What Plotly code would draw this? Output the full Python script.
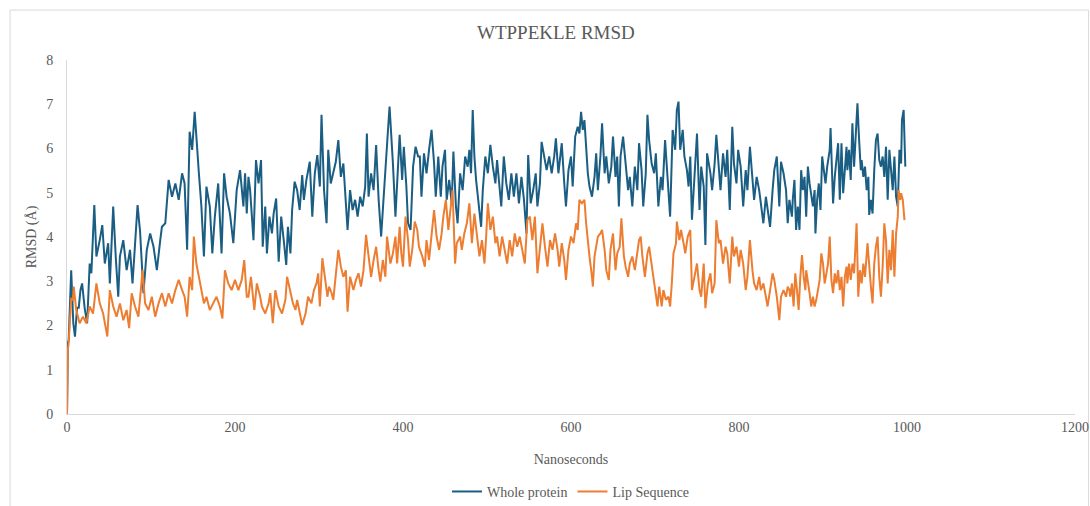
import plotly.graph_objects as go

whole_ns = [0, 1, 2, 3, 5, 7.5, 9.5, 12, 14, 16, 18, 21, 24, 27, 29, 32.5, 35, 39, 42, 45, 49, 51, 55, 58, 61, 63, 67, 71, 75, 78, 84, 87, 91, 95, 99, 103, 107, 111, 113, 117, 121, 125, 129, 133, 137, 140, 143, 146, 149, 152, 155, 157, 160, 163, 166, 170, 173, 176, 180, 184, 187, 190, 194, 198, 202, 206, 210, 212, 214, 216, 218, 222, 225, 228, 231, 233, 236, 238, 241, 244, 246, 249, 252, 255, 258, 261, 263, 266, 268, 271, 274, 277, 280, 282, 285, 289, 292, 295, 298, 301, 303, 306, 309, 311, 314, 317, 320, 323, 326, 329, 332, 334, 337, 340, 343, 346, 349, 352, 355, 357, 359, 362, 365, 368, 371, 374, 377, 380, 382, 384, 386, 388, 391, 393, 396, 399, 401, 404, 406, 409, 412, 415, 418, 420, 422, 425, 428, 431, 434, 437, 439, 442, 445, 447, 450, 452, 455, 458, 460, 463, 465, 468, 471, 474, 477, 479, 481, 483, 485, 487, 490, 493, 495, 498, 501, 504, 507, 510, 512, 515, 517, 520, 523, 526, 529, 532, 535, 538, 541, 544, 547, 549, 552, 555, 558, 560, 563, 565, 568, 571, 574, 577, 580, 582, 585, 587, 589, 592, 594, 597, 600, 602, 605, 608, 610, 612, 614, 616, 618, 620, 622, 625, 628, 630, 632, 635, 637, 640, 642, 645, 648, 650, 653, 655, 657, 659, 662, 665, 668, 670, 673, 676, 679, 681, 684, 686, 689, 691, 693, 696, 699, 701, 704, 707, 709, 712, 715, 718, 721, 724, 726, 728, 730, 733, 735, 738, 740, 742, 744, 747, 750, 753, 755, 758, 760, 762, 766, 768, 771, 773, 776, 778, 781, 784, 786, 789, 792, 794, 797, 799, 802, 805, 808, 810, 813, 816, 818, 821, 824, 826, 829, 832, 834, 837, 840, 842, 845, 848, 850, 853, 856, 858, 860, 863, 864, 866, 868, 870, 872, 874, 876, 878, 880, 882, 884, 886, 888, 890, 891, 893, 895, 897, 899, 901, 903, 905, 908, 909, 912, 914, 916, 918, 920, 922, 924, 926, 928, 929, 931, 933, 935, 937, 939, 941, 943, 945, 946, 948, 950, 952, 954, 955, 957, 959, 961, 963, 965, 967, 969, 971, 973, 975, 977, 979, 981, 983, 985, 987, 989, 991, 993, 994, 996, 997, 998]
whole_rmsd = [0, 1.6, 1.67, 2.2, 3.25, 2.05, 1.75, 2.4, 2.4, 2.8, 2.95, 2.4, 2.05, 3.4, 3.18, 4.72, 3.56, 3.93, 4.27, 3.4, 3.86, 2.95, 4.69, 3.56, 2.65, 3.56, 3.93, 3.25, 3.71, 2.95, 4.72, 4.12, 2.73, 3.71, 4.08, 3.78, 3.25, 3.93, 4.23, 4.31, 5.29, 4.91, 5.21, 4.84, 5.44, 5.21, 3.71, 6.38, 5.97, 6.83, 5.82, 5.44, 4.69, 3.56, 5.14, 4.69, 3.63, 4.46, 5.21, 3.63, 5.44, 4.91, 4.53, 3.86, 5.06, 5.51, 4.69, 5.44, 4.53, 5.36, 5.06, 3.93, 5.74, 5.21, 5.74, 3.78, 4.69, 3.63, 4.46, 4.08, 4.53, 4.87, 3.44, 4.46, 3.93, 3.37, 4.23, 3.63, 4.61, 5.25, 5.06, 4.61, 5.40, 4.84, 5.29, 5.70, 4.46, 5.44, 5.85, 5.14, 6.76, 5.06, 4.31, 5.97, 5.21, 5.44, 5.70, 6.19, 5.36, 5.66, 4.84, 4.16, 5.06, 4.61, 4.84, 4.46, 4.91, 4.69, 5.14, 6.34, 4.91, 5.44, 5.06, 6.08, 4.84, 4.01, 4.91, 5.97, 6.38, 6.95, 6.12, 5.66, 4.46, 5.21, 6.31, 5.29, 6.04, 5.14, 4.31, 4.16, 5.59, 6.04, 5.82, 5.82, 4.91, 5.89, 5.44, 5.97, 6.42, 5.66, 4.91, 5.82, 4.91, 5.59, 5.97, 4.84, 5.29, 4.76, 5.93, 4.69, 4.31, 5.44, 5.06, 5.82, 5.59, 5.97, 5.44, 6.87, 5.82, 5.29, 4.69, 4.23, 5.06, 5.82, 5.44, 6.08, 5.59, 5.21, 5.74, 5.14, 4.69, 5.82, 5.21, 4.84, 5.44, 4.91, 5.44, 4.76, 5.36, 4.84, 4.08, 5.85, 4.76, 5.06, 5.44, 4.69, 5.21, 6.15, 5.82, 5.51, 5.82, 5.44, 5.82, 6.23, 5.44, 5.82, 6.12, 5.21, 4.69, 5.51, 5.82, 5.14, 6.27, 6.49, 6.34, 6.83, 6.42, 6.64, 6.04, 5.44, 5.14, 4.91, 5.36, 5.89, 5.06, 5.82, 6.57, 5.44, 5.82, 5.21, 5.59, 6.27, 5.36, 5.82, 4.69, 5.82, 6.27, 5.66, 5.06, 5.36, 4.69, 5.59, 5.06, 6.12, 5.51, 4.69, 5.44, 6.76, 6.19, 5.66, 5.44, 5.89, 4.69, 5.36, 5.06, 6.19, 5.29, 4.46, 6.42, 5.97, 6.87, 7.06, 5.97, 6.42, 5.82, 5.51, 5.14, 5.82, 4.39, 5.44, 6.34, 4.61, 5.59, 5.14, 3.82, 5.89, 5.44, 5.06, 5.66, 6.31, 5.44, 5.06, 5.89, 5.36, 5.97, 4.61, 6.49, 5.66, 5.21, 5.97, 5.59, 4.69, 5.51, 5.06, 6.04, 5.29, 4.84, 5.36, 5.06, 4.76, 4.31, 4.91, 4.61, 4.23, 5.06, 5.51, 5.82, 4.69, 5.70, 5.44, 5.06, 4.31, 4.84, 4.46, 4.84, 5.29, 4.16, 4.69, 4.16, 5.51, 5.06, 5.36, 4.46, 5.59, 5.21, 4.91, 4.69, 5.06, 4.08, 4.84, 5.21, 4.61, 5.82, 5.51, 5.21, 5.59, 5.97, 6.46, 4.76, 5.36, 5.82, 6.12, 4.84, 6.12, 4.99, 5.59, 6.04, 5.51, 5.97, 5.29, 6.57, 5.59, 6.19, 7.02, 6.19, 5.51, 5.74, 5.36, 5.59, 5.06, 5.36, 4.50, 4.84, 4.53, 5.51, 6.19, 6.34, 5.74, 5.59, 5.82, 5.36, 6.04, 4.84, 5.97, 5.51, 5.06, 5.82, 4.91, 4.69, 5.97, 5.66, 6.64, 6.87, 5.97, 5.59]

lip_ns = [0, 1, 2, 3, 5, 7, 8, 11, 15, 19, 23, 27, 31, 35, 39, 43, 48, 51, 55, 59, 63, 67, 71, 74, 77, 81, 85, 90, 93, 97, 101, 105, 109, 113, 117, 121, 125, 129, 133, 137, 140, 143, 146, 149, 151, 154, 157, 160, 163, 166, 170, 174, 178, 182, 185, 188, 192, 196, 200, 204, 208, 211, 214, 216, 219, 223, 226, 230, 232, 236, 240, 242, 245, 248, 252, 256, 260, 262, 266, 269, 272, 274, 278, 280, 284, 287, 291, 294, 297, 299, 301, 304, 307, 310, 312, 315, 317, 320, 323, 326, 329, 332, 334, 337, 341, 344, 347, 350, 353, 356, 359, 362, 365, 368, 371, 373, 376, 379, 381, 385, 388, 391, 393, 396, 398, 400, 403, 406, 408, 411, 414, 417, 419, 423, 426, 428, 431, 434, 437, 440, 443, 446, 448, 451, 454, 456, 459, 462, 464, 468, 470, 473, 476, 479, 482, 485, 488, 491, 494, 497, 499, 501, 504, 507, 510, 512, 515, 518, 521, 524, 527, 530, 533, 536, 539, 542, 545, 548, 551, 554, 557, 560, 563, 566, 569, 572, 575, 578, 581, 584, 586, 589, 592, 594, 597, 600, 603, 606, 608, 610, 613, 616, 618, 620, 622, 625, 626, 628, 632, 635, 637, 640, 642, 645, 647, 650, 653, 655, 658, 660, 663, 665, 668, 670, 673, 676, 678, 681, 683, 685, 688, 691, 693, 696, 698, 700, 703, 705, 708, 710, 713, 716, 718, 720, 722, 725, 726, 729, 731, 734, 736, 739, 742, 744, 747, 750, 753, 755, 758, 760, 763, 766, 768, 771, 773, 776, 778, 781, 784, 786, 789, 792, 794, 797, 800, 802, 805, 808, 810, 813, 816, 818, 821, 824, 826, 829, 832, 834, 837, 840, 842, 845, 848, 850, 853, 856, 858, 860, 861, 863, 865, 867, 869, 871, 873, 875, 877, 879, 880, 882, 884, 886, 888, 890, 892, 894, 896, 898, 900, 902, 904, 906, 908, 910, 912, 914, 916, 918, 920, 922, 924, 926, 928, 929, 931, 933, 935, 937, 940, 942, 944, 946, 948, 950, 953, 955, 957, 959, 961, 963, 965, 967, 969, 971, 973, 975, 977, 979, 981, 983, 985, 987, 989, 990, 992, 993, 995, 997]
lip_rmsd = [0, 1.45, 1.6, 2.05, 2.6, 2.58, 2.88, 2.35, 2.05, 2.2, 2.05, 2.43, 2.27, 2.95, 2.50, 2.27, 1.75, 2.80, 2.43, 2.20, 2.50, 2.12, 2.35, 1.94, 2.73, 2.43, 2.20, 3.25, 2.50, 2.35, 2.65, 2.20, 2.50, 2.73, 2.43, 2.73, 2.50, 2.80, 3.03, 2.80, 2.65, 2.20, 3.10, 2.80, 4.01, 3.40, 3.10, 2.80, 2.50, 2.65, 2.35, 2.50, 2.65, 2.43, 2.16, 3.25, 2.95, 2.80, 3.03, 2.80, 3.03, 3.48, 2.65, 2.65, 3.10, 2.35, 2.95, 2.65, 2.43, 2.27, 2.50, 2.73, 2.05, 2.80, 2.43, 2.27, 2.58, 3.10, 2.73, 2.50, 2.35, 2.58, 2.20, 2.01, 2.27, 2.65, 2.50, 2.80, 2.95, 3.18, 2.43, 3.52, 3.10, 2.65, 2.88, 2.73, 2.58, 3.10, 3.71, 3.33, 3.10, 3.25, 2.31, 3.10, 2.80, 3.03, 3.18, 2.88, 3.25, 4.05, 3.56, 3.10, 3.48, 3.78, 3.25, 2.99, 3.48, 3.10, 4.01, 3.40, 3.63, 4.01, 3.40, 4.23, 3.63, 3.33, 4.46, 3.93, 3.33, 3.71, 4.35, 4.16, 3.78, 3.56, 3.33, 3.93, 3.48, 4.01, 4.61, 4.01, 3.71, 4.08, 4.46, 4.84, 4.16, 4.53, 5.06, 3.40, 3.86, 4.01, 3.71, 4.08, 4.31, 4.76, 3.86, 4.53, 4.01, 3.56, 3.93, 3.40, 4.01, 4.76, 4.16, 4.46, 3.86, 4.01, 3.56, 4.01, 3.71, 3.40, 3.93, 3.56, 4.08, 3.78, 4.01, 3.71, 3.40, 4.38, 4.46, 3.93, 4.46, 3.18, 3.71, 4.31, 3.78, 3.33, 3.93, 3.71, 4.08, 3.71, 3.33, 3.86, 3.48, 3.03, 3.71, 4.01, 3.86, 4.31, 4.16, 4.84, 4.76, 4.84, 4.31, 3.86, 3.56, 3.10, 2.88, 3.56, 4.01, 4.08, 4.16, 3.71, 3.25, 3.03, 3.71, 4.08, 3.25, 3.63, 3.78, 4.42, 3.56, 3.33, 3.10, 3.40, 3.56, 3.25, 3.56, 3.93, 4.01, 3.56, 3.10, 3.63, 3.78, 3.40, 3.10, 2.80, 2.43, 2.88, 2.43, 2.80, 2.58, 2.65, 2.43, 2.95, 3.63, 3.86, 4.35, 3.93, 4.16, 3.86, 3.63, 4.01, 4.16, 2.80, 3.10, 3.40, 2.80, 2.65, 3.40, 2.39, 2.95, 3.18, 2.73, 2.95, 4.38, 3.86, 3.93, 3.40, 3.78, 3.63, 2.95, 4.01, 3.56, 3.78, 3.33, 3.71, 3.40, 2.80, 3.10, 3.93, 3.25, 2.95, 2.80, 3.10, 2.80, 2.95, 2.65, 2.43, 2.80, 3.18, 3.03, 2.65, 2.12, 2.65, 2.80, 2.65, 2.88, 2.80, 2.65, 2.95, 2.43, 3.18, 2.80, 2.35, 3.10, 3.59, 3.10, 2.80, 3.25, 3.03, 2.73, 2.43, 2.65, 2.43, 2.58, 2.80, 3.03, 3.63, 3.40, 2.95, 3.18, 3.40, 4.01, 3.03, 2.73, 3.18, 2.95, 3.25, 2.80, 3.10, 2.43, 3.10, 3.33, 2.95, 3.40, 3.03, 3.40, 3.18, 4.31, 2.65, 3.25, 2.95, 3.40, 3.10, 3.86, 3.25, 2.88, 2.50, 3.40, 3.78, 4.01, 3.10, 2.65, 3.33, 4.31, 3.93, 2.95, 3.71, 3.25, 4.16, 3.10, 4.08, 4.46, 5.06, 4.84, 4.99, 4.84, 4.38]

x_ticks = [0, 200, 400, 600, 800, 1000, 1200]
y_ticks = [0, 1, 2, 3, 4, 5, 6, 7, 8]

FONT = "Liberation Serif, Times New Roman, serif"
GRAY = "#595959"

fig = go.Figure()
fig.add_trace(go.Scatter(x=whole_ns, y=whole_rmsd, mode="lines", name="Whole protein",
                         line=dict(color="#1b5e83", width=2)))
fig.add_trace(go.Scatter(x=lip_ns, y=lip_rmsd, mode="lines", name="Lip Sequence",
                         line=dict(color="#ed7d31", width=2)))

fig.update_layout(
    width=1090, height=506,
    margin=dict(l=67, r=15, t=60, b=92, autoexpand=False),
    paper_bgcolor="white", plot_bgcolor="white",
    font=dict(family=FONT, color=GRAY, size=14),
    title=dict(text="WTPPEKLE RMSD", x=0.51, xanchor="center", y=0.937, yanchor="middle",
               font=dict(family=FONT, size=19, color=GRAY)),
    legend=dict(orientation="h", x=0.5, xanchor="center", y=-0.22, yanchor="middle",
                font=dict(family=FONT, size=14, color=GRAY), itemwidth=30),
    showlegend=True,
)
fig.update_xaxes(range=[0, 1200], tickvals=x_ticks, ticktext=[str(v) for v in x_ticks],
                 showgrid=False, zeroline=False, showline=True, linecolor="#d9d9d9", linewidth=1,
                 ticks="", automargin=False, tickfont=dict(family=FONT, size=14, color=GRAY),
                 title=dict(text="Nanoseconds", font=dict(family=FONT, size=14, color=GRAY), standoff=20))
fig.update_yaxes(range=[0, 8], tickvals=y_ticks, ticktext=[str(v) for v in y_ticks],
                 showgrid=False, zeroline=False, showline=True, linecolor="#d9d9d9", linewidth=1,
                 ticks="", ticklabelstandoff=10, automargin=False,
                 tickfont=dict(family=FONT, size=14, color=GRAY),
                 title=dict(text="RMSD (Å)", font=dict(family=FONT, size=14, color=GRAY), standoff=6))

fig.add_shape(type="rect", xref="paper", yref="paper",
              x0=-0.0565, x1=1.0135, y0=-0.27, y1=1.141,
              line=dict(color="#d9d9d9", width=1), fillcolor="rgba(0,0,0,0)", layer="below")

fig.write_html("out.html", config={"displayModeBar": False},
               post_script="document.body.style.margin='0px';")
